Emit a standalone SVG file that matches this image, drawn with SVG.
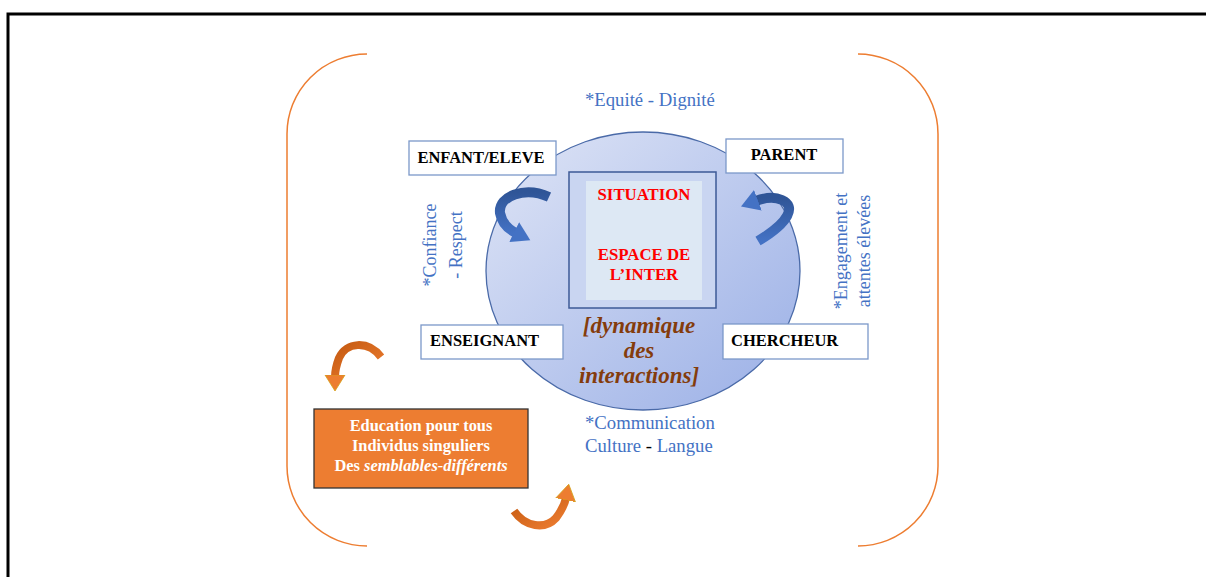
<svg xmlns="http://www.w3.org/2000/svg" width="1206" height="577" viewBox="0 0 1206 577">
<style>
.box{fill:#fff;stroke:#7b98c9;stroke-width:1.3}
.lbl{font-family:"Liberation Serif",serif;font-weight:bold;font-size:16.5px;fill:#000}
.red{font-family:"Liberation Serif",serif;font-weight:bold;font-size:16.8px;fill:#f00;text-anchor:middle}
.brn{font-family:"Liberation Serif",serif;font-weight:bold;font-style:italic;font-size:23px;fill:#843c0c;text-anchor:middle}
.blu{font-family:"Liberation Serif",serif;font-size:18.7px;fill:#4472c4}
.vt{font-size:18px}
.wht{font-family:"Liberation Serif",serif;font-weight:bold;font-size:16.4px;fill:#fff;text-anchor:middle}
.brk{fill:none;stroke:#ed7d31;stroke-width:1.5}
.barr{fill:none;stroke:url(#gb);stroke-width:10}
.oarr{fill:none;stroke:url(#go);stroke-width:8}
</style>
<defs>
<linearGradient id="gc" x1="0" y1="0" x2="1" y2="1">
<stop offset="0" stop-color="#dfe5f6"/>
<stop offset="1" stop-color="#9aafe6"/>
</linearGradient>
<linearGradient id="gb" x1="0" y1="0" x2="0" y2="1">
<stop offset="0" stop-color="#2f5597"/>
<stop offset="1" stop-color="#4472c4"/>
</linearGradient>
<linearGradient id="go" x1="0" y1="0" x2="1" y2="1">
<stop offset="0" stop-color="#c55a11"/>
<stop offset="1" stop-color="#ed7d31"/>
</linearGradient>
<marker id="hb" markerUnits="userSpaceOnUse" markerWidth="20" markerHeight="24" refX="2" refY="12" orient="auto">
<path d="M0,1 L18,12 L0,23 Z" fill="#4472c4"/>
</marker>
<marker id="ho" markerUnits="userSpaceOnUse" markerWidth="18" markerHeight="22" refX="2" refY="11" orient="auto">
<path d="M0,1 L16,11 L0,21 Z" fill="#ed7d31" stroke="#d4a017" stroke-width="0.8"/>
</marker>
</defs>
<path d="M8,577 L8,14 L1206,14" fill="none" stroke="#000" stroke-width="3"/>
<g id="bracket">
<path class="brk" d="M367,54 A80,80 0 0 0 287,134 L287,466 A80,80 0 0 0 367,546"/>
<path class="brk" d="M858,54 A80,80 0 0 1 938,134 L938,466 A80,80 0 0 1 858,546"/>
</g>
<g id="circle">
<ellipse cx="643" cy="271" rx="157" ry="139" fill="url(#gc)" stroke="#4a6aa8" stroke-width="1.3"/>
</g>
<g id="situation">
<rect x="569" y="172" width="147" height="136" fill="#c9d5f1" stroke="#3d5a96" stroke-width="1.5"/>
<rect x="586" y="181" width="116" height="119" fill="#dde8f4"/>
<text class="red" x="644" y="200">SITUATION</text>
<text class="red" x="644" y="260">ESPACE DE</text>
<text class="red" x="644" y="280">L’INTER</text>
</g>
<g id="dynamique">
<text class="brn" x="639" y="333">[dynamique</text>
<text class="brn" x="639" y="358">des</text>
<text class="brn" x="639" y="383">interactions]</text>
</g>
<g id="enfant">
<rect class="box" x="409" y="141" width="147" height="34"/>
<text class="lbl" x="481" y="163" text-anchor="middle">ENFANT/ELEVE</text>
</g>
<g id="parent">
<rect class="box" x="726" y="139" width="117" height="34"/>
<text class="lbl" x="784" y="160" text-anchor="middle">PARENT</text>
</g>
<g id="enseignant">
<rect class="box" x="421" y="325" width="142" height="34"/>
<text class="lbl" x="430" y="346">ENSEIGNANT</text>
</g>
<g id="chercheur">
<rect class="box" x="723" y="324" width="145" height="35"/>
<text class="lbl" x="731" y="346">CHERCHEUR</text>
</g>
<g id="education">
<rect x="314" y="409" width="214" height="79" fill="#ed7d31" stroke="#333" stroke-width="1.3"/>
<text class="wht" x="421" y="431">Education pour tous</text>
<text class="wht" x="421" y="451">Individus singuliers</text>
<text class="wht" x="421" y="471">Des <tspan font-style="italic">semblables-différents</tspan></text>
</g>
<g id="labels">
<text class="blu" x="585" y="106">*Equité - Dignité</text>
<text class="blu" x="585" y="429">*Communication</text>
<text class="blu" x="585" y="452">Culture <tspan fill="#000">-</tspan> Langue</text>
<text class="blu vt" text-anchor="middle" transform="translate(436,245) rotate(-90)">*Confiance</text>
<text class="blu vt" text-anchor="middle" transform="translate(462,245) rotate(-90)">- Respect</text>
<text class="blu vt" text-anchor="middle" transform="translate(847,251) rotate(-90)">*Engagement et</text>
<text class="blu vt" text-anchor="middle" transform="translate(870,251) rotate(-90)">attentes élevées</text>
</g>
<g id="connectors">
<path class="barr" marker-end="url(#hb)" d="M549,197 C525,186 498,196 500,213 C502,224 510,230 516,233"/>
<path class="barr" marker-end="url(#hb)" d="M758,241 C790,222 796,206 782,200 C773,196 764,198 756,201"/>
<path class="oarr" marker-end="url(#ho)" d="M381,357 C368,340 346,342 339,358 C336,366 335,372 335,377"/>
<path class="oarr" marker-end="url(#ho)" d="M514,511 C525,527 545,530 556,518 C562,510 565,503 566,498"/>
</g>
</svg>
